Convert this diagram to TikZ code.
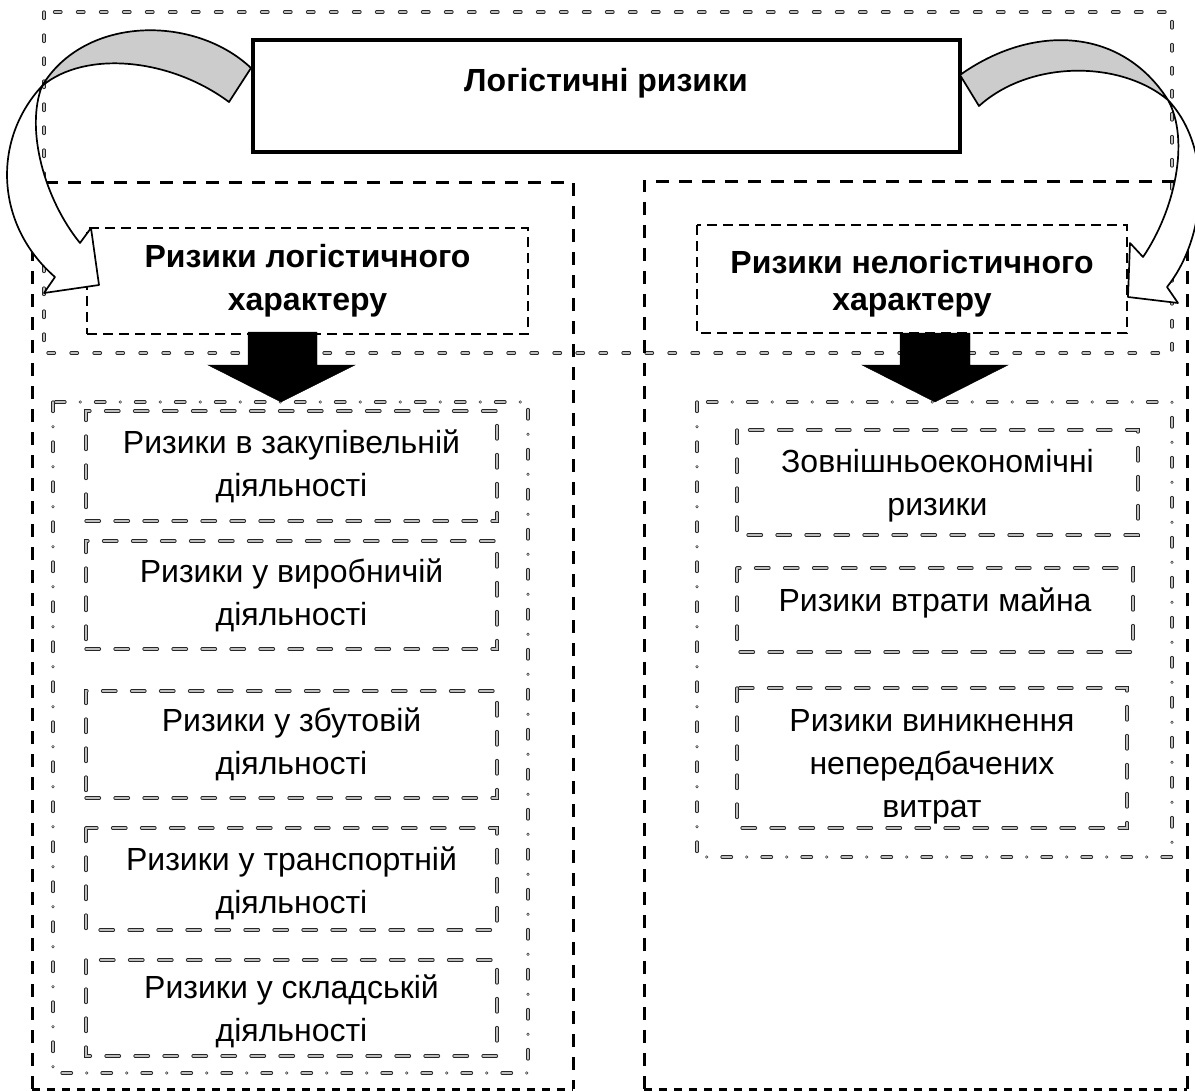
\documentclass[tikz,border=0pt]{standalone}
\usepackage{fontspec}
\setmainfont{Liberation Sans}
\begin{document}
\begin{tikzpicture}[x=1pt,y=-1pt,
  txt/.style={font=\fontsize{32}{43}\selectfont, align=center, inner sep=0pt},
  btxt/.style={font=\fontsize{32}{43}\selectfont\bfseries, align=center, inner sep=0pt},
  grayline/.style={draw=black!85, line width=0.7pt, double=gray!50, double distance=1.8pt, line cap=round},
  topbox/.style={grayline, dash pattern=on 6.5pt off 16.5pt},
  subbox/.style={grayline, dash pattern=on 13.5pt off 15.5pt},
  dotbox/.style={grayline, dash pattern=on 9.5pt off 15.25pt on 0pt off 15.25pt},
  bigdash/.style={draw=black, line width=3pt, dash pattern=on 13pt off 10pt},
  bigdashB/.style={draw=black, line width=3pt, dash pattern=on 8pt off 7pt},
  hdrbox/.style={draw=black, line width=1.8pt, dash pattern=on 10pt off 6pt},
  mainbox/.style={draw=black, line width=3.2pt, fill=white},
  blockarrow/.style={fill=black},
  curvearrow/.style={draw=black, line width=1.7pt, line join=round}
]
\useasboundingbox (0,0) rectangle (1195,1092);

% top gray frame
\draw[topbox] (44,12) rectangle (1172,353);

% big black dashed frames
\draw[bigdash] (32,1089) -- (32,182) -- (573,182) -- (573,1089);
\draw[bigdashB] (32,1089) -- (573,1089);
\draw[bigdash] (644,1089) -- (644,181) -- (1187,181) -- (1187,1089);
\draw[bigdashB] (644,1089) -- (1187,1089);

% header boxes
\node[hdrbox, btxt, minimum width=441pt, minimum height=106pt] (lhdr) at (307.5,281) {Ризики логістичного\\характеру};
\draw[hdrbox] (697,225) rectangle (1127,333);
\node[font=\fontsize{32}{37}\selectfont\bfseries, align=center, inner sep=0pt] (rhdr) at (912,284) {Ризики нелогістичного\\характеру};

% dash-dot frames
\draw[dotbox] (53,402) rectangle (528,1073);
\draw[dotbox] (697,402) rectangle (1172,857);

% left items
\node[subbox, txt, minimum width=411pt, minimum height=110pt] (l1) at (291.5,466) {Ризики в закупівельній\\діяльності};
\node[subbox, txt, minimum width=411pt, minimum height=108pt] (l2) at (291.5,595) {Ризики у виробничій\\діяльності};
\node[subbox, txt, minimum width=411pt, minimum height=107pt] (l3) at (291.5,744.5) {Ризики у збутовій\\діяльності};
\draw[subbox] (86,828) rectangle (497,930);
\node[txt] (l4) at (291.5,883) {Ризики у транспортній\\діяльності};
\draw[subbox] (86,960) rectangle (497,1056);
\node[txt] (l5) at (291.5,1011) {Ризики у складській\\діяльності};

% right items
\draw[subbox] (737,430) rectangle (1138,535);
\node[txt] (r1) at (937.5,486) {Зовнішньоекономічні\\ризики};
\draw[subbox] (737,568) rectangle (1133,652);
\node[txt] (r2) at (935,603) {Ризики втрати майна};
\draw[subbox] (737,688) rectangle (1127,828);
\node[txt] (r3) at (932,767) {Ризики виникнення\\непередбачених\\витрат};

% main box
\node[mainbox, minimum width=707pt, minimum height=112pt] (main) at (606.5,96) {};
\node[btxt] (title) at (606,83) {Логістичні ризики};

% block arrows
\filldraw[blockarrow] (248,332) -- (317,332) -- (317,365) -- (355,365) -- (281,402) -- (208,365) -- (248,365) -- cycle;
\filldraw[blockarrow] (900,333) -- (970,333) -- (970,365) -- (1008,365) -- (935,402) -- (862,365) -- (900,365) -- cycle;

% left curved arrow
\filldraw[curvearrow, fill=gray!40] (251,68) .. controls (195,15) and (85,15) .. (42,86)
   .. controls (85,50) and (170,58) .. (229,102) -- cycle;
\filldraw[curvearrow, fill=white] (42,86) .. controls (-8,140) and (-5,225) .. (55,277)
   -- (44,293) -- (99,285) -- (91,228) -- (80,243)
   .. controls (45,200) and (25,130) .. (42,86) -- cycle;

% right curved arrow
\filldraw[curvearrow, fill=gray!40] (960,75) .. controls (1030,25) and (1120,25) .. (1168,100)
   .. controls (1120,60) and (1030,60) .. (979,106) -- cycle;
\filldraw[curvearrow, fill=white] (1168,100) .. controls (1215,150) and (1205,240) .. (1167,287)
   -- (1178,303) -- (1128,297) -- (1130,243) -- (1143,257)
   .. controls (1175,210) and (1190,140) .. (1168,100) -- cycle;
\end{tikzpicture}
\end{document}
